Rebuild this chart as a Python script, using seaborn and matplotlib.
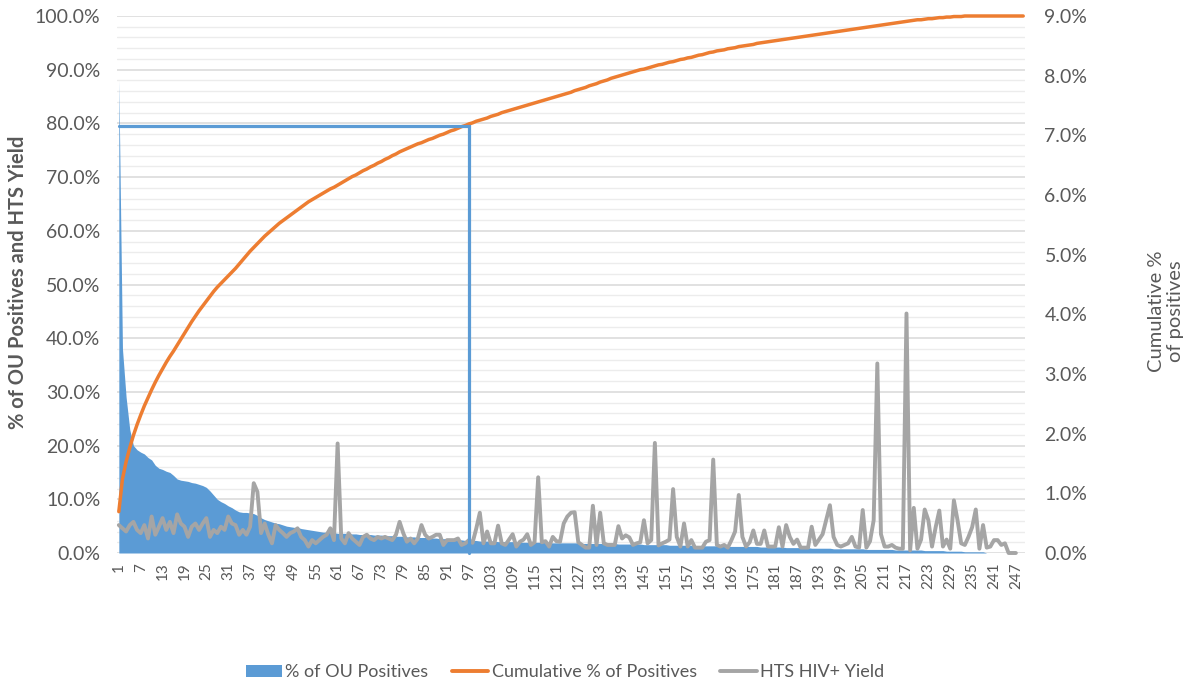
import numpy as np
import matplotlib
matplotlib.use("Agg")
import matplotlib.pyplot as plt
import seaborn as sns
from matplotlib.patches import Patch
from matplotlib.lines import Line2D
from matplotlib.ticker import MultipleLocator, FixedLocator, FuncFormatter

# ---------------- data ----------------
categories = list(range(1, 250))
x_tick_labels = list(range(1, 248, 6))

# % of OU Positives (right axis, %)
ou_positives = [
    7.92, 3.42, 2.61, 2.07, 1.80, 1.73, 1.69, 1.66, 1.60, 1.56,
    1.47, 1.42, 1.40, 1.37, 1.35, 1.30, 1.24, 1.22, 1.21, 1.20,
    1.18, 1.17, 1.15, 1.13, 1.10, 1.04, 0.97, 0.90, 0.86, 0.83,
    0.79, 0.76, 0.72, 0.69, 0.68, 0.68, 0.67, 0.66, 0.63, 0.59,
    0.56, 0.54, 0.52, 0.50, 0.49, 0.47, 0.45, 0.44, 0.43, 0.43,
    0.41, 0.40, 0.39, 0.38, 0.37, 0.36, 0.35, 0.35, 0.34, 0.34,
    0.33, 0.33, 0.33, 0.32, 0.32, 0.32, 0.31, 0.31, 0.31, 0.31,
    0.30, 0.30, 0.30, 0.29, 0.29, 0.29, 0.28, 0.28, 0.28, 0.27,
    0.27, 0.27, 0.26, 0.26, 0.26, 0.25, 0.25, 0.25, 0.24, 0.24,
    0.24, 0.23, 0.23, 0.22, 0.22, 0.21, 0.21, 0.21, 0.21, 0.20,
    0.20, 0.20, 0.20, 0.20, 0.19, 0.19, 0.19, 0.19, 0.19, 0.18,
    0.18, 0.18, 0.18, 0.18, 0.18, 0.18, 0.18, 0.18, 0.17, 0.17,
    0.17, 0.17, 0.17, 0.17, 0.17, 0.17, 0.17, 0.16, 0.16, 0.16,
    0.16, 0.16, 0.16, 0.16, 0.16, 0.16, 0.16, 0.15, 0.15, 0.15,
    0.15, 0.15, 0.15, 0.15, 0.14, 0.14, 0.14, 0.14, 0.14, 0.14,
    0.14, 0.13, 0.13, 0.13, 0.13, 0.13, 0.13, 0.13, 0.12, 0.12,
    0.12, 0.12, 0.12, 0.12, 0.12, 0.12, 0.12, 0.11, 0.11, 0.11,
    0.11, 0.11, 0.11, 0.11, 0.11, 0.11, 0.10, 0.10, 0.10, 0.10,
    0.10, 0.10, 0.10, 0.09, 0.09, 0.09, 0.09, 0.09, 0.09, 0.09,
    0.08, 0.08, 0.08, 0.08, 0.08, 0.08, 0.07, 0.07, 0.07, 0.07,
    0.07, 0.07, 0.07, 0.07, 0.07, 0.06, 0.06, 0.06, 0.06, 0.06,
    0.06, 0.06, 0.06, 0.05, 0.05, 0.05, 0.05, 0.05, 0.05, 0.05,
    0.05, 0.04, 0.04, 0.04, 0.04, 0.04, 0.04, 0.03, 0.03, 0.03,
    0.03, 0.03, 0.02, 0.02, 0.02, 0.02, 0.02, 0.02, 0.00, 0.00,
    0.00, 0.00, 0.00, 0.00, 0.00, 0.00, 0.00, 0.00, 0.00,
]

# Cumulative % of Positives (left axis, %)
cumulative = [
    7.7, 13.8, 17.0, 19.6, 21.9, 23.9, 25.7, 27.4, 28.9, 30.4,
    31.8, 33.1, 34.3, 35.5, 36.6, 37.6, 38.7, 39.8, 40.9, 42.0,
    43.1, 44.1, 45.1, 46.0, 46.9, 47.8, 48.7, 49.5, 50.2, 50.9,
    51.6, 52.3, 53.0, 53.8, 54.6, 55.4, 56.2, 56.9, 57.6, 58.3,
    59.0, 59.6, 60.2, 60.8, 61.4, 61.9, 62.4, 62.9, 63.4, 63.9,
    64.4, 64.9, 65.4, 65.8, 66.2, 66.6, 67.0, 67.4, 67.8, 68.1,
    68.5, 68.9, 69.3, 69.7, 70.1, 70.4, 70.8, 71.2, 71.5, 71.9,
    72.2, 72.6, 72.9, 73.3, 73.6, 74.0, 74.3, 74.7, 75.0, 75.3,
    75.6, 75.9, 76.2, 76.4, 76.7, 77.0, 77.2, 77.5, 77.8, 78.0,
    78.3, 78.6, 78.8, 79.1, 79.4, 79.6, 79.9, 80.1, 80.4, 80.6,
    80.8, 81.0, 81.3, 81.5, 81.7, 82.0, 82.2, 82.4, 82.6, 82.8,
    83.0, 83.2, 83.4, 83.6, 83.8, 84.0, 84.2, 84.4, 84.6, 84.8,
    85.0, 85.2, 85.4, 85.6, 85.8, 86.1, 86.3, 86.5, 86.7, 87.0,
    87.2, 87.4, 87.7, 87.9, 88.1, 88.4, 88.6, 88.8, 89.0, 89.2,
    89.4, 89.6, 89.8, 90.0, 90.1, 90.3, 90.5, 90.7, 90.9, 91.0,
    91.2, 91.4, 91.5, 91.7, 91.9, 92.0, 92.2, 92.3, 92.5, 92.7,
    92.8, 93.0, 93.2, 93.3, 93.5, 93.6, 93.7, 93.9, 94.0, 94.1,
    94.3, 94.4, 94.5, 94.6, 94.7, 94.9, 95.0, 95.1, 95.2, 95.3,
    95.4, 95.5, 95.6, 95.7, 95.8, 95.9, 96.0, 96.1, 96.2, 96.3,
    96.4, 96.5, 96.6, 96.7, 96.8, 96.9, 97.0, 97.1, 97.2, 97.3,
    97.4, 97.5, 97.6, 97.7, 97.8, 97.9, 98.0, 98.1, 98.2, 98.3,
    98.4, 98.5, 98.6, 98.7, 98.8, 98.9, 99.0, 99.1, 99.2, 99.3,
    99.3, 99.4, 99.5, 99.5, 99.6, 99.7, 99.7, 99.8, 99.8, 99.9,
    99.9, 99.9, 100.0, 100.0, 100.0, 100.0, 100.0, 100.0, 100.0, 100.0,
    100.0, 100.0, 100.0, 100.0, 100.0, 100.0, 100.0, 100.0, 100.0,
]

# HTS HIV+ Yield (left axis, %)
hts_yield = [
    5.2, 4.6, 4.0, 5.2, 5.8, 4.3, 3.7, 5.2, 2.7, 6.8,
    3.4, 4.9, 6.5, 4.3, 5.8, 3.7, 7.2, 5.5, 4.9, 3.0,
    4.9, 5.5, 4.3, 5.5, 6.5, 3.0, 4.3, 3.7, 4.9, 4.3,
    6.8, 5.5, 5.2, 3.4, 4.3, 3.4, 4.9, 13.0, 11.4, 3.7,
    5.5, 3.4, 1.8, 5.2, 4.3, 3.7, 3.0, 3.7, 4.0, 4.6,
    3.0, 2.4, 1.2, 2.4, 1.8, 2.4, 3.0, 3.4, 4.6, 2.4,
    20.4, 2.7, 1.8, 3.7, 2.7, 2.1, 1.5, 3.0, 3.4, 2.7,
    2.4, 3.0, 2.7, 3.0, 2.7, 2.4, 3.4, 5.8, 3.7, 2.1,
    2.7, 1.8, 2.7, 5.2, 3.4, 2.7, 3.0, 3.4, 3.4, 1.5,
    2.4, 2.4, 2.4, 2.7, 1.5, 1.8, 2.4, 1.9, 4.5, 7.5,
    1.8, 4.0, 1.8, 1.8, 5.1, 1.8, 1.5, 2.5, 3.5, 1.2,
    2.1, 2.5, 3.5, 1.5, 2.0, 14.1, 2.0, 2.2, 1.2, 3.0,
    2.2, 2.1, 5.5, 6.8, 7.5, 7.6, 2.0, 1.5, 1.0, 1.0,
    8.8, 1.5, 7.5, 1.8, 1.5, 1.5, 1.5, 5.0, 2.7, 3.3,
    2.9, 1.5, 1.8, 2.0, 6.1, 1.8, 2.4, 20.5, 1.4, 1.8,
    2.1, 2.5, 11.9, 3.0, 1.2, 5.5, 1.2, 2.4, 1.0, 1.0,
    1.0, 2.1, 2.4, 17.4, 1.5, 1.2, 1.5, 1.0, 2.4, 4.0,
    10.8, 3.0, 1.2, 2.0, 4.2, 1.7, 1.7, 4.2, 1.2, 1.2,
    1.2, 4.8, 1.2, 5.2, 3.0, 1.7, 2.5, 1.0, 1.0, 1.0,
    4.9, 1.5, 2.5, 3.5, 6.2, 8.9, 3.0, 1.5, 1.2, 1.5,
    1.8, 3.0, 1.2, 1.0, 8.0, 1.0, 2.2, 6.1, 35.3, 3.5,
    1.2, 1.2, 1.5, 1.0, 0.8, 0.8, 44.6, 0.5, 8.4, 0.8,
    2.5, 8.1, 6.1, 1.2, 4.8, 7.9, 1.2, 2.5, 0.8, 9.8,
    6.1, 1.8, 1.5, 3.0, 4.8, 8.1, 0.8, 5.2, 1.0, 1.2,
    2.4, 2.4, 1.5, 1.8, 0.0, 0.0, 0.0, np.nan, np.nan,
]

# 80% marker line (category, left-axis %)
marker_x = [1, 97, 97]
marker_y = [79.5, 79.5, 0.0]

left_ticks = [0, 10, 20, 30, 40, 50, 60, 70, 80, 90, 100]
right_ticks = [0, 1, 2, 3, 4, 5, 6, 7, 8, 9]

assert len(ou_positives) == len(categories), len(ou_positives)
assert len(cumulative) == len(categories), len(cumulative)
assert len(hts_yield) == len(categories), len(hts_yield)

# ---------------- style ----------------
sns.set_theme(style="white")
plt.rcParams["font.family"] = ["Lato", "DejaVu Sans"]

BLUE = "#5b9bd5"
ORANGE = "#ed7d31"
GRAY = "#a5a5a5"
TXT = "#595959"

W, H = 1192, 682
L, R, T, B = 117, 1025, 16, 553
rect = [L / W, 1 - B / H, (R - L) / W, (B - T) / H]

fig = plt.figure(figsize=(W / 100, H / 100), dpi=100)

# grid axes (bottom layer)
axg = fig.add_axes(rect)
axg.set_xlim(0.5, 249.5)
axg.set_ylim(0, 100)
axg.yaxis.set_major_locator(MultipleLocator(10))
axg.yaxis.set_minor_locator(MultipleLocator(2))
axg.grid(which="major", axis="y", color="#d9d9d9", lw=1.1)
axg.grid(which="minor", axis="y", color="#ececec", lw=1.0)
axg.grid(which="both", axis="x", visible=False)
axg.tick_params(which="both", labelleft=False, labelbottom=False, length=0)
for s in axg.spines.values():
    s.set_visible(False)

# right axis: area
ax2 = fig.add_axes(rect, sharex=axg)
ax2.patch.set_visible(False)
ax2.fill_between(categories, ou_positives, 0, color=BLUE, lw=0)
ax2.set_ylim(0, 9)
ax2.yaxis.tick_right()
ax2.yaxis.set_major_locator(FixedLocator(right_ticks))
ax2.yaxis.set_major_formatter(FuncFormatter(lambda v, p: f"{v:.1f}%"))
ax2.tick_params(axis="y", labelsize=14, labelcolor=TXT, length=0, pad=14)
ax2.tick_params(axis="x", labelbottom=False, length=0)
ax2.grid(False)
for s in ax2.spines.values():
    s.set_visible(False)

# left axis: lines
ax = fig.add_axes(rect, sharex=axg)
ax.patch.set_visible(False)
sns.lineplot(x=categories, y=cumulative, ax=ax, color=ORANGE, lw=2.5,
             clip_on=False, solid_joinstyle="round")
sns.lineplot(x=categories, y=hts_yield, ax=ax, color=GRAY, lw=2.8,
             clip_on=False, solid_joinstyle="round")
ax.plot(marker_x, marker_y, color=BLUE, lw=2.3, solid_joinstyle="miter",
        clip_on=False)
ax.set_ylim(0, 100)
ax.set_xlim(0.5, 249.5)
ax.yaxis.set_major_locator(FixedLocator(left_ticks))
ax.yaxis.set_major_formatter(FuncFormatter(lambda v, p: f"{v:.1f}%"))
ax.set_xticks(x_tick_labels)
ax.set_xticklabels([str(v) for v in x_tick_labels], rotation=90)
ax.tick_params(axis="y", labelsize=14, labelcolor=TXT, length=0, pad=12)
ax.tick_params(axis="x", labelsize=11, labelcolor=TXT, length=0, pad=7)
ax.grid(False)
for s in ax.spines.values():
    s.set_visible(False)
ax.set_xlabel("")
ax.set_ylabel("")

fig.text(18 / W, 1 - 282 / H, "% of OU Positives and HTS Yield", rotation=90,
         ha="center", va="center", fontsize=14.5, color=TXT, fontweight="bold")
fig.text(1166 / W, 1 - 311 / H, "Cumulative %\nof positives", rotation=90,
         ha="center", va="center", fontsize=14.5, color=TXT,
         multialignment="center", linespacing=1.15)

handles = [
    Patch(facecolor=BLUE, edgecolor="none"),
    Line2D([0], [0], color=ORANGE, lw=2.8),
    Line2D([0], [0], color=GRAY, lw=2.8),
]
labels = ["% of OU Positives", "Cumulative % of Positives", "HTS HIV+ Yield"]
leg = fig.legend(handles, labels, loc="center", bbox_to_anchor=(0.474, 0.0147),
                 ncol=3, frameon=False, fontsize=13, handlelength=2.0,
                 handleheight=0.65, columnspacing=1.3, handletextpad=0.2,
                 borderpad=0.1)
for t in leg.get_texts():
    t.set_color(TXT)

fig.savefig("out.png", dpi=100)
